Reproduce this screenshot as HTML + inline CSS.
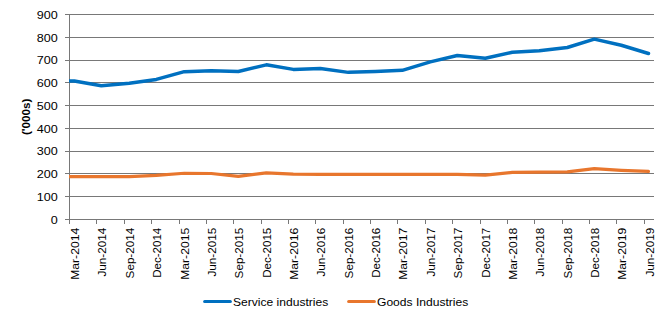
<!DOCTYPE html>
<html><head><meta charset="utf-8"><title>chart</title>
<style>html,body{margin:0;padding:0;background:#fff;width:668px;height:322px;overflow:hidden}</style>
</head><body>
<svg width="668" height="322" viewBox="0 0 668 322" style="display:block">
<rect width="668" height="322" fill="#fff"/>
<rect x="65" y="14" width="589" height="1" fill="#787878"/>
<rect x="65" y="37" width="589" height="1" fill="#787878"/>
<rect x="65" y="60" width="589" height="1" fill="#787878"/>
<rect x="65" y="82" width="589" height="1" fill="#787878"/>
<rect x="65" y="105" width="589" height="1" fill="#787878"/>
<rect x="65" y="128" width="589" height="1" fill="#787878"/>
<rect x="65" y="151" width="589" height="1" fill="#787878"/>
<rect x="65" y="173" width="589" height="1" fill="#787878"/>
<rect x="65" y="196" width="589" height="1" fill="#787878"/>
<rect x="65" y="219" width="589" height="1" fill="#787878"/>
<rect x="69" y="14" width="1" height="210" fill="#787878"/>
<rect x="69" y="219" width="1" height="5" fill="#787878"/>
<rect x="96" y="219" width="1" height="5" fill="#787878"/>
<rect x="124" y="219" width="1" height="5" fill="#787878"/>
<rect x="151" y="219" width="1" height="5" fill="#787878"/>
<rect x="179" y="219" width="1" height="5" fill="#787878"/>
<rect x="206" y="219" width="1" height="5" fill="#787878"/>
<rect x="233" y="219" width="1" height="5" fill="#787878"/>
<rect x="261" y="219" width="1" height="5" fill="#787878"/>
<rect x="288" y="219" width="1" height="5" fill="#787878"/>
<rect x="315" y="219" width="1" height="5" fill="#787878"/>
<rect x="343" y="219" width="1" height="5" fill="#787878"/>
<rect x="370" y="219" width="1" height="5" fill="#787878"/>
<rect x="397" y="219" width="1" height="5" fill="#787878"/>
<rect x="425" y="219" width="1" height="5" fill="#787878"/>
<rect x="452" y="219" width="1" height="5" fill="#787878"/>
<rect x="480" y="219" width="1" height="5" fill="#787878"/>
<rect x="507" y="219" width="1" height="5" fill="#787878"/>
<rect x="534" y="219" width="1" height="5" fill="#787878"/>
<rect x="562" y="219" width="1" height="5" fill="#787878"/>
<rect x="589" y="219" width="1" height="5" fill="#787878"/>
<rect x="616" y="219" width="1" height="5" fill="#787878"/>
<rect x="644" y="219" width="1" height="5" fill="#787878"/>
<text x="57.8" y="18.90" text-anchor="end" font-family='"Liberation Sans", sans-serif' font-size="11" textLength="21.0" lengthAdjust="spacingAndGlyphs" fill="#000">900</text>
<text x="57.8" y="41.66" text-anchor="end" font-family='"Liberation Sans", sans-serif' font-size="11" textLength="21.0" lengthAdjust="spacingAndGlyphs" fill="#000">800</text>
<text x="57.8" y="64.42" text-anchor="end" font-family='"Liberation Sans", sans-serif' font-size="11" textLength="21.0" lengthAdjust="spacingAndGlyphs" fill="#000">700</text>
<text x="57.8" y="87.18" text-anchor="end" font-family='"Liberation Sans", sans-serif' font-size="11" textLength="21.0" lengthAdjust="spacingAndGlyphs" fill="#000">600</text>
<text x="57.8" y="109.94" text-anchor="end" font-family='"Liberation Sans", sans-serif' font-size="11" textLength="21.0" lengthAdjust="spacingAndGlyphs" fill="#000">500</text>
<text x="57.8" y="132.70" text-anchor="end" font-family='"Liberation Sans", sans-serif' font-size="11" textLength="21.0" lengthAdjust="spacingAndGlyphs" fill="#000">400</text>
<text x="57.8" y="155.46" text-anchor="end" font-family='"Liberation Sans", sans-serif' font-size="11" textLength="21.0" lengthAdjust="spacingAndGlyphs" fill="#000">300</text>
<text x="57.8" y="178.22" text-anchor="end" font-family='"Liberation Sans", sans-serif' font-size="11" textLength="21.0" lengthAdjust="spacingAndGlyphs" fill="#000">200</text>
<text x="57.8" y="200.98" text-anchor="end" font-family='"Liberation Sans", sans-serif' font-size="11" textLength="21.0" lengthAdjust="spacingAndGlyphs" fill="#000">100</text>
<text x="57.8" y="223.74" text-anchor="end" font-family='"Liberation Sans", sans-serif' font-size="11" textLength="7.0" lengthAdjust="spacingAndGlyphs" fill="#000">0</text>
<text transform="translate(30.2,116.8) rotate(-90)" text-anchor="middle" font-family='"Liberation Sans", sans-serif' font-weight="bold" font-size="11" textLength="36.5" lengthAdjust="spacingAndGlyphs" fill="#000">('000s)</text>
<text transform="translate(79.00,227.8) rotate(-90)" text-anchor="end" font-family='"Liberation Sans", sans-serif' font-size="11.6" textLength="52.0" lengthAdjust="spacingAndGlyphs" fill="#000">Mar-2014</text>
<text transform="translate(106.00,227.8) rotate(-90)" text-anchor="end" font-family='"Liberation Sans", sans-serif' font-size="11.6" textLength="48.7" lengthAdjust="spacingAndGlyphs" fill="#000">Jun-2014</text>
<text transform="translate(134.00,227.8) rotate(-90)" text-anchor="end" font-family='"Liberation Sans", sans-serif' font-size="11.6" textLength="50.6" lengthAdjust="spacingAndGlyphs" fill="#000">Sep-2014</text>
<text transform="translate(161.00,227.8) rotate(-90)" text-anchor="end" font-family='"Liberation Sans", sans-serif' font-size="11.6" textLength="49.9" lengthAdjust="spacingAndGlyphs" fill="#000">Dec-2014</text>
<text transform="translate(189.00,227.8) rotate(-90)" text-anchor="end" font-family='"Liberation Sans", sans-serif' font-size="11.6" textLength="52.0" lengthAdjust="spacingAndGlyphs" fill="#000">Mar-2015</text>
<text transform="translate(216.00,227.8) rotate(-90)" text-anchor="end" font-family='"Liberation Sans", sans-serif' font-size="11.6" textLength="48.7" lengthAdjust="spacingAndGlyphs" fill="#000">Jun-2015</text>
<text transform="translate(243.00,227.8) rotate(-90)" text-anchor="end" font-family='"Liberation Sans", sans-serif' font-size="11.6" textLength="50.6" lengthAdjust="spacingAndGlyphs" fill="#000">Sep-2015</text>
<text transform="translate(271.00,227.8) rotate(-90)" text-anchor="end" font-family='"Liberation Sans", sans-serif' font-size="11.6" textLength="49.9" lengthAdjust="spacingAndGlyphs" fill="#000">Dec-2015</text>
<text transform="translate(298.00,227.8) rotate(-90)" text-anchor="end" font-family='"Liberation Sans", sans-serif' font-size="11.6" textLength="52.0" lengthAdjust="spacingAndGlyphs" fill="#000">Mar-2016</text>
<text transform="translate(325.00,227.8) rotate(-90)" text-anchor="end" font-family='"Liberation Sans", sans-serif' font-size="11.6" textLength="48.7" lengthAdjust="spacingAndGlyphs" fill="#000">Jun-2016</text>
<text transform="translate(353.00,227.8) rotate(-90)" text-anchor="end" font-family='"Liberation Sans", sans-serif' font-size="11.6" textLength="50.6" lengthAdjust="spacingAndGlyphs" fill="#000">Sep-2016</text>
<text transform="translate(380.00,227.8) rotate(-90)" text-anchor="end" font-family='"Liberation Sans", sans-serif' font-size="11.6" textLength="49.9" lengthAdjust="spacingAndGlyphs" fill="#000">Dec-2016</text>
<text transform="translate(407.00,227.8) rotate(-90)" text-anchor="end" font-family='"Liberation Sans", sans-serif' font-size="11.6" textLength="52.0" lengthAdjust="spacingAndGlyphs" fill="#000">Mar-2017</text>
<text transform="translate(435.00,227.8) rotate(-90)" text-anchor="end" font-family='"Liberation Sans", sans-serif' font-size="11.6" textLength="48.7" lengthAdjust="spacingAndGlyphs" fill="#000">Jun-2017</text>
<text transform="translate(462.00,227.8) rotate(-90)" text-anchor="end" font-family='"Liberation Sans", sans-serif' font-size="11.6" textLength="50.6" lengthAdjust="spacingAndGlyphs" fill="#000">Sep-2017</text>
<text transform="translate(490.00,227.8) rotate(-90)" text-anchor="end" font-family='"Liberation Sans", sans-serif' font-size="11.6" textLength="49.9" lengthAdjust="spacingAndGlyphs" fill="#000">Dec-2017</text>
<text transform="translate(517.00,227.8) rotate(-90)" text-anchor="end" font-family='"Liberation Sans", sans-serif' font-size="11.6" textLength="52.0" lengthAdjust="spacingAndGlyphs" fill="#000">Mar-2018</text>
<text transform="translate(544.00,227.8) rotate(-90)" text-anchor="end" font-family='"Liberation Sans", sans-serif' font-size="11.6" textLength="48.7" lengthAdjust="spacingAndGlyphs" fill="#000">Jun-2018</text>
<text transform="translate(572.00,227.8) rotate(-90)" text-anchor="end" font-family='"Liberation Sans", sans-serif' font-size="11.6" textLength="50.6" lengthAdjust="spacingAndGlyphs" fill="#000">Sep-2018</text>
<text transform="translate(599.00,227.8) rotate(-90)" text-anchor="end" font-family='"Liberation Sans", sans-serif' font-size="11.6" textLength="49.9" lengthAdjust="spacingAndGlyphs" fill="#000">Dec-2018</text>
<text transform="translate(626.00,227.8) rotate(-90)" text-anchor="end" font-family='"Liberation Sans", sans-serif' font-size="11.6" textLength="52.0" lengthAdjust="spacingAndGlyphs" fill="#000">Mar-2019</text>
<text transform="translate(654.00,227.8) rotate(-90)" text-anchor="end" font-family='"Liberation Sans", sans-serif' font-size="11.6" textLength="48.7" lengthAdjust="spacingAndGlyphs" fill="#000">Jun-2019</text>
<defs><clipPath id="pc"><rect x="69" y="0" width="599" height="322"/></clipPath></defs>
<polyline clip-path="url(#pc)" points="67.00,176.68 74.30,176.68 101.30,176.68 129.30,176.68 156.30,175.31 184.30,173.26 211.30,173.49 238.30,176.45 266.30,172.81 293.30,174.17 320.30,174.40 348.30,174.40 375.30,174.40 402.30,174.40 430.30,174.40 457.30,174.40 485.30,175.08 512.30,172.35 539.30,172.12 567.30,171.89 594.30,168.71 621.30,170.30 648.50,171.44" fill="none" stroke="#E8762D" stroke-width="3.2" stroke-linejoin="round" stroke-linecap="round"/>
<polyline clip-path="url(#pc)" points="67.00,81.01 74.30,81.01 101.30,85.79 129.30,83.29 156.30,79.42 184.30,71.67 211.30,70.76 238.30,71.44 266.30,64.84 293.30,69.39 320.30,68.48 348.30,72.36 375.30,71.44 402.30,70.31 430.30,61.88 457.30,55.50 485.30,58.23 512.30,52.31 539.30,50.72 567.30,47.53 594.30,39.10 621.30,45.25 648.50,53.45" fill="none" stroke="#0070C0" stroke-width="3.5" stroke-linejoin="round" stroke-linecap="round"/>
<line x1="204.6" y1="301.5" x2="230.4" y2="301.5" stroke="#0070C0" stroke-width="3" stroke-linecap="round"/>
<text x="233" y="306.3" font-family='"Liberation Sans", sans-serif' font-size="11.5" textLength="95.2" lengthAdjust="spacingAndGlyphs" fill="#000">Service industries</text>
<line x1="348.6" y1="301.5" x2="374.4" y2="301.5" stroke="#E8762D" stroke-width="3" stroke-linecap="round"/>
<text x="377" y="306.3" font-family='"Liberation Sans", sans-serif' font-size="11.5" textLength="91.3" lengthAdjust="spacingAndGlyphs" fill="#000">Goods Industries</text>
</svg>
</body></html>
